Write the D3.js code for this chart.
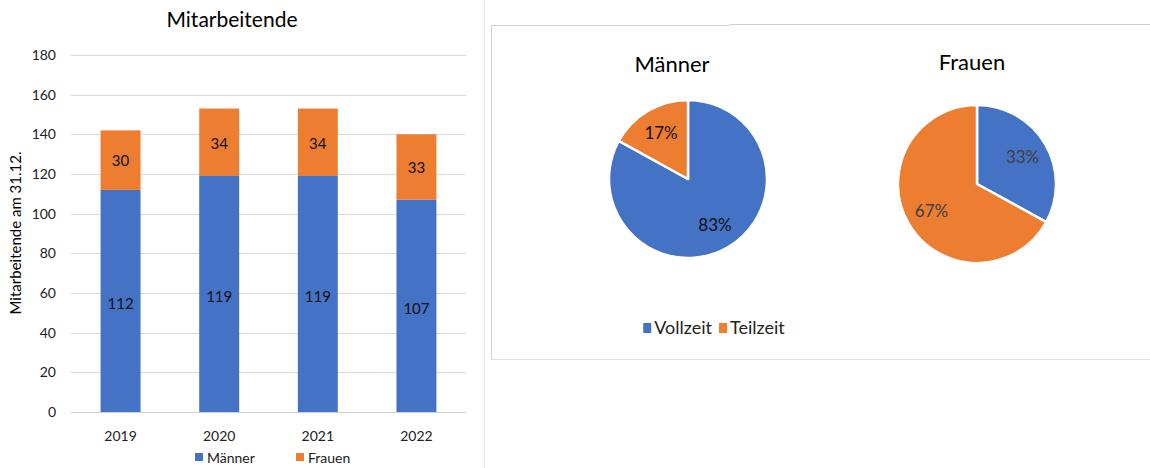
<!DOCTYPE html>
<html><head><meta charset="utf-8">
<script src="https://cdn.jsdelivr.net/npm/d3@7"></script>
<style>body{margin:0;background:#fff;}svg{display:block;font-family:Lato,"Open Sans",sans-serif;}</style>
</head><body>
<svg id="c" width="1150" height="468"></svg>
<script>
const years = ["2019","2020","2021","2022"];
const maenner = [112,119,119,107];
const frauen = [30,34,34,33];
const yTicks = [0,20,40,60,80,100,120,140,160,180];
const pieCats = ["Vollzeit","Teilzeit"];
const pieMaenner = [83,17];
const pieFrauen = [33,67];
const blue = "#4472C4", orange = "#ED7D31";

const svg = d3.select("#c");

// separators / frames
svg.append("line").attr("x1",484.5).attr("x2",484.5).attr("y1",0).attr("y2",468).attr("stroke","#e3e3e3");
svg.append("path").attr("d","M491.5,359.5V25.5H729.5V24.5H1150").attr("fill","none").attr("stroke","#d0d0d0");
svg.append("line").attr("x1",491).attr("x2",1150).attr("y1",359.5).attr("y2",359.5).attr("stroke","#e0e0e0");

// ---- Bar chart
const x = d3.scaleBand().domain(years).range([71,466]).paddingInner(0.595).paddingOuter(0.3);
const y = d3.scaleLinear().domain([0,180]).range([412,55]);

svg.append("text").attr("x",232).attr("y",27).attr("text-anchor","middle").attr("font-size",21).attr("fill","#000").text("Mitarbeitende");

const grid = svg.append("g");
grid.selectAll("line").data(yTicks).join("line")
  .attr("x1",71).attr("x2",466).attr("y1",d=>Math.round(y(d))+0.5).attr("y2",d=>Math.round(y(d))+0.5)
  .attr("stroke",d=>d===0?"#d0d0d0":"#d9d9d9");
grid.selectAll("text").data(yTicks).join("text")
  .attr("x",56).attr("y",d=>y(d)).attr("dy","0.35em").attr("text-anchor","end").attr("font-size",14).attr("fill","#222").text(d=>d);

svg.append("text").attr("transform","translate(21,233) rotate(-90)").attr("text-anchor","middle").attr("font-size",15).attr("fill","#000").text("Mitarbeitende am 31.12.");

const stackData = years.map((yr,i)=>({year:yr,m:maenner[i],f:frauen[i]}));
const stack = d3.stack().keys(["m","f"])(stackData);
const colors = {m:blue,f:orange};
stack.forEach(s=>{
  const g = svg.append("g");
  g.selectAll("rect").data(s).join("rect")
    .attr("x",d=>x(d.data.year)).attr("width",x.bandwidth())
    .attr("y",d=>y(d[1])).attr("height",d=>y(d[0])-y(d[1])).attr("fill",colors[s.key]);
  g.selectAll("text").data(s).join("text")
    .attr("x",d=>x(d.data.year)+x.bandwidth()/2).attr("y",d=>(y(d[0])+y(d[1]))/2+ (s.key==="m"?3:1))
    .attr("dy","0.35em").attr("text-anchor","middle").attr("font-size",15).attr("fill","#111")
    .text(d=>d[1]-d[0]);
});

svg.append("g").selectAll("text").data(years).join("text")
  .attr("x",d=>x(d)+x.bandwidth()/2).attr("y",436).attr("dy","0.35em").attr("text-anchor","middle")
  .attr("font-size",14).attr("fill","#222").text(d=>d);

const leg1 = [{k:"Männer",c:blue,x:195},{k:"Frauen",c:orange,x:296}];
leg1.forEach(l=>{
  svg.append("rect").attr("x",l.x).attr("y",453).attr("width",8).attr("height",8).attr("fill",l.c);
  svg.append("text").attr("x",l.x+12).attr("y",458).attr("dy","0.35em").attr("font-size",14).attr("fill","#222").text(l.k);
});

// ---- Pies
const pie = d3.pie().sort(null).value(d=>d);
const R = 79;
const arc = d3.arc().innerRadius(0).outerRadius(R);
const labelArc = d3.arc().innerRadius(R*0.67).outerRadius(R*0.67);
function drawPie(cx,cy,title,tx,ty,vals,labColor){
  svg.append("text").attr("x",tx).attr("y",ty).attr("text-anchor","middle").attr("font-size",22).attr("fill","#000").text(title);
  const g = svg.append("g").attr("transform",`translate(${cx},${cy})`);
  const arcs = pie(vals);
  g.selectAll("path").data(arcs).join("path").attr("d",arc)
    .attr("fill",(d,i)=>i===0?blue:orange).attr("stroke","#fff").attr("stroke-width",2.5).attr("stroke-linejoin","round");
  g.selectAll("text").data(arcs).join("text")
    .attr("transform",d=>`translate(${labelArc.centroid(d)})`).attr("dy","0.35em").attr("text-anchor","middle")
    .attr("font-size",17).attr("fill",labColor).text(d=>d.data+"%");
}
drawPie(688,179,"Männer",672,72,pieMaenner,"#111");
drawPie(977,184,"Frauen",972,70,pieFrauen,"#404040");

// legend for pies, laid out by measured text width, centred around x=714
const legG = svg.append("g");
const legCols = [blue, orange];
let cursor = 0;
pieCats.forEach((k,i)=>{
  const it = legG.append("g").attr("transform",`translate(${cursor},0)`);
  it.append("rect").attr("x",0).attr("y",-5).attr("width",8).attr("height",10).attr("fill",legCols[i]);
  const t = it.append("text").attr("x",11).attr("y",0).attr("dy","0.35em").attr("font-size",18).attr("fill","#222").text(k);
  cursor += 11 + t.node().getComputedTextLength() + 7;
});
const legW = cursor - 7;
legG.attr("transform",`translate(${714 - legW/2},328)`);
</script>
</body></html>
